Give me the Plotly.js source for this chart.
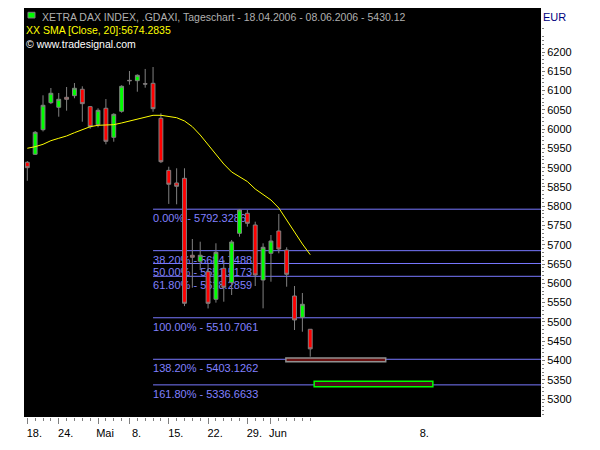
<!DOCTYPE html>
<html><head><meta charset="utf-8">
<script src="https://cdn.plot.ly/plotly-3.0.1.min.js"></script>
<style>html,body{margin:0;padding:0;background:#fff}#chart{width:600px;height:450px}</style>
</head><body><div id="chart"></div>
<script>
// ---- data (trading-day index, OHLC) ----
const days = [0,1,2,3,4,5,6,7,8,9,10,11,12,13,14,15,16,17,18,19,20,21,22,23,24,25,26,27,28,29,30,31,32,33,34,35,36];
const open  = [5914,5934.7,5998.5,6068.5,6056.6,6082.5,6086.7,6103.3,6058.2,6011.5,6054,5978.8,6046.2,6126.5,6125.6,6117.5,6118.8,6028,5893,5860.3,5872.4,5672.8,5657.2,5630.2,5558.7,5639,5601.7,5729.8,5781.7,5751.3,5608.7,5678,5735.8,5686.5,5567.2,5512,5480.9];
const high  = [5917,5995,6087.7,6106.6,6093.7,6109.2,6119.6,6111,6060,6054,6078,6041,6113.6,6150.7,6142,6156,6161,6041,5902.5,5898.4,5898.4,5715,5708,5650,5703.9,5660.6,5712.5,5792.3,5790.2,5759.9,5703.9,5725.4,5779.9,5693.5,5593.1,5575,5481];
const low   = [5866,5933,5994,6065,6032.2,6047.8,6080,6019.2,6001,6004.7,5960.6,5967.4,6042.6,6115.2,6097,6107.4,6045,5912,5806,5805,5541,5588.7,5634.6,5535,5550,5552.4,5569.8,5721,5747,5593.1,5535.3,5604.3,5678,5591.3,5479,5474.6,5409.8];
const close = [5900,5991.7,6061.8,6092.9,6077.3,6077.3,6105.9,6066,6006.3,6048.8,5968.4,6038.4,6111,6125.6,6139.6,6117,6053,5915.5,5857,5851.7,5548.3,5667.6,5672.8,5548.3,5680.5,5589.8,5707.3,5790.2,5755.8,5621.7,5693.5,5709.8,5689.1,5623.5,5505,5545.7,5430.12];
const sma20 = [5950.3,5954.4,5960.6,5970,5976.2,5982.2,5990.7,5999.5,6006.3,6009.9,6009.9,6011.5,6015.9,6021.1,6026.2,6032.2,6035.8,6035.8,6033.2,6029.6,6021.1,6006.3,5984.7,5958.8,5932.9,5909.5,5888.8,5877.1,5864.1,5844.7,5830.4,5816.2,5795.4,5764.3,5730.6,5702.1,5674.28];

const xTickIdx  = [0,4,9,13,18,23,28,31,36];
const xTickText = ['18.','24.','Mai','8.','15.','22.','29.','Jun',''];
const futureTickIdx  = [50];
const futureTickText = ['8.'];
const yTickVals = [5300,5350,5400,5450,5500,5550,5600,5650,5700,5750,5800,5850,5900,5950,6000,6050,6100,6150,6200];

const fibPct = [0,38.2,50,61.8,100,138.2,161.8];
const fibVal = [5792.3286,5684.7488,5651.5173,5618.2859,5510.7061,5403.1262,5336.6633];
const fibStartIdx = 16;

const zoneX0 = [32.9,36.5];
const zoneX1 = [45.6,51.6];
const zoneLo = [5396.8,5332];
const zoneHi = [5406.4,5346];

const instrument = 'XETRA DAX INDEX, .GDAXI, Tageschart';
const startDate = '18.04.2006', endDate = '08.06.2006', lastClose = '5430.12';
const smaText = 'XX SMA [Close, 20]:5674.2835';
const copyText = '\u00a9 www.tradesignal.com';
const currency = 'EUR';

// ---- layout helpers ----
const FONT = 'Liberation Sans, Arial, sans-serif';
const XR = [-0.42, 65.36];
const YR = [5253.4, 6314.1];
const minorY = [];
for (let v = 5260; v <= 6260; v += 10) if (v % 50 !== 0) minorY.push(v);

const traces = [
  {type:'candlestick', x:days, open:open, high:high, low:low, close:close,
   increasing:{line:{color:'#808080',width:1}, fillcolor:'#00ff00'},
   decreasing:{line:{color:'#808080',width:1}, fillcolor:'#ff0000'},
   whiskerwidth:0, showlegend:false, hoverinfo:'skip'},
  {type:'scatter', mode:'lines', x:days, y:sma20, line:{color:'#ffff00',width:1},
   showlegend:false, hoverinfo:'skip'},
  {type:'scatter', mode:'markers', x:[], y:[], xaxis:'x2', yaxis:'y', showlegend:false}
];

const shapes = [];
fibPct.forEach((p,i) => {
  shapes.push({type:'line', layer:'below', xref:'x', yref:'y',
    x0:fibStartIdx, x1:XR[1], y0:fibVal[i], y1:fibVal[i],
    line:{color:'#7878ff', width:1},
    label:{text:p.toFixed(2)+'% - '+fibVal[i].toFixed(4), textposition:'start',
      xanchor:'left', yanchor:'top', padding:2,
      font:{family:FONT, size:11, color:'#8080ff'}}});
});
zoneX0.forEach((x0,i) => {
  shapes.push({type:'rect', layer:'below', xref:'x', yref:'y',
    x0:x0, x1:zoneX1[i], y0:zoneLo[i], y1:zoneHi[i],
    fillcolor: i===0 ? '#6a1010' : '#4a1018',
    line:{color: i===0 ? '#909090' : '#00ff00', width: i===0 ? 1.5 : 1.5}});
});
// legend swatch
shapes.push({type:'rect', xref:'paper', yref:'paper', x0:0.0077, x1:0.0213, y0:0.9756, y1:0.9895,
  fillcolor:'#00ff00', line:{color:'#808080', width:1}});

const annotations = [
  {xref:'paper', yref:'paper', x:0.031, y:0.979, xanchor:'left', yanchor:'middle', showarrow:false,
   text: instrument+' - '+startDate+' - '+endDate+' - '+lastClose,
   font:{family:FONT, size:10.5, color:'#b0b0b0'}},
  {xref:'paper', yref:'paper', x:0, y:0.945, xanchor:'left', yanchor:'middle', showarrow:false,
   text: smaText, font:{family:FONT, size:10.5, color:'#ffff00'}},
  {xref:'paper', yref:'paper', x:0, y:0.912, xanchor:'left', yanchor:'middle', showarrow:false,
   text: copyText, font:{family:FONT, size:10.5, color:'#ffffff'}},
  {xref:'paper', yref:'paper', x:1, y:0.978, xanchor:'left', yanchor:'middle', showarrow:false, xshift:0,
   text: currency, font:{family:FONT, size:11, color:'#000080'}}
];

const layout = {
  width:600, height:450,
  margin:{l:24, r:59, t:8, b:33, pad:0},
  paper_bgcolor:'#ffffff', plot_bgcolor:'#000000',
  showlegend:false, boxgap:0.3, boxgroupgap:0.3,
  font:{family:FONT, size:11, color:'#000'},
  xaxis:{range:XR, tickmode:'array', tickvals:xTickIdx, ticktext:xTickText,
    ticks:'outside', ticklen:6, tickwidth:1, tickcolor:'#808080',
    minor:{tickmode:'array', tickvals:days, ticks:'outside', ticklen:3, tickwidth:1, tickcolor:'#808080', showgrid:false},
    showgrid:false, zeroline:false, showline:false, rangeslider:{visible:false},
    tickfont:{family:FONT, size:11, color:'#000'}, ticklabelshift:7, fixedrange:true},
  xaxis2:{overlaying:'x', anchor:'y', side:'bottom', range:XR, tickmode:'array',
    tickvals:futureTickIdx, ticktext:futureTickText, ticks:'outside', ticklen:6,
    tickcolor:'rgba(0,0,0,0)', showgrid:false, zeroline:false, showline:false,
    tickfont:{family:FONT, size:11, color:'#000'}, ticklabelshift:4, fixedrange:true},
  yaxis:{side:'right', range:YR, tickmode:'array', tickvals:yTickVals,
    ticks:'outside', ticklen:3, tickwidth:1, tickcolor:'#808080',
    minor:{tickmode:'array', tickvals:minorY, ticks:'outside', ticklen:2, tickwidth:1, tickcolor:'#808080', showgrid:false},
    showgrid:false, zeroline:false, showline:false,
    tickfont:{family:FONT, size:11, color:'#000'}, fixedrange:true},
  shapes:shapes, annotations:annotations
};

Plotly.newPlot('chart', traces, layout, {staticPlot:true, displayModeBar:false});
</script></body></html>
